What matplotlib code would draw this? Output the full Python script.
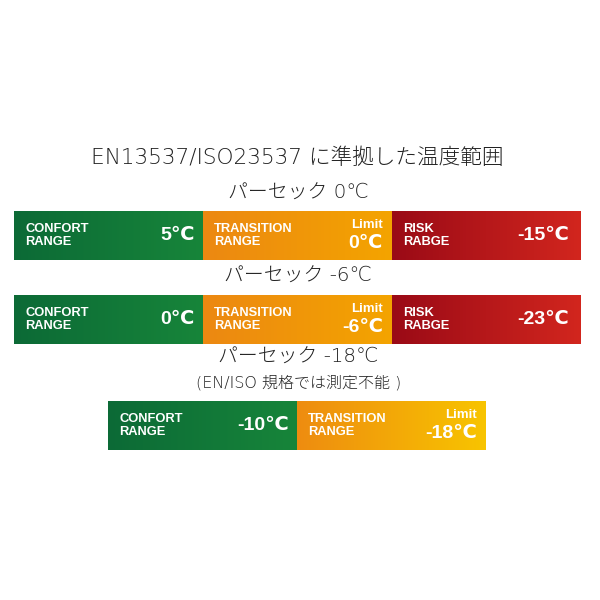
import numpy as np
import matplotlib.pyplot as plt
from matplotlib.colors import LinearSegmentedColormap

# Chart content
title = 'EN13537/ISO23537 に準拠した温度範囲'
row_titles = ['パーセック 0℃', 'パーセック -6℃', 'パーセック -18℃']
row_notes = ['', '', '(EN/ISO 規格では測定不能 )']
comfort_vals = ['5℃', '0℃', '-10℃']
limit_vals = ['0℃', '-6℃', '-18℃']
risk_vals = ['-15℃', '-23℃', None]

# layout (pixels, y grows downward)
bar_tops = [211, 295, 401]
bar_lefts = [14, 14, 108]
title_ys = [193, 276, 357]
seg_w = 189
bar_h = 49

green = ('#0c6a36', '#17853a')
orange = ('#ec8812', '#f4a400')
orange_last = ('#ee8c10', '#f8c400')
red = ('#9a0a16', '#d2261e')

head = ['DejaVu Sans', 'Noto Sans CJK JP']
latin = ['Liberation Sans', 'DejaVu Sans']

fig = plt.figure(figsize=(6, 6), dpi=100)
ax = fig.add_axes([0, 0, 1, 1])
ax.set_xlim(0, 600)
ax.set_ylim(600, 0)
ax.axis('off')

grad = np.linspace(0, 1, 256).reshape(1, -1)


def segment(x, y, colors):
    cmap = LinearSegmentedColormap.from_list('g', list(colors))
    ax.imshow(grad, cmap=cmap, aspect='auto', interpolation='bilinear',
              extent=[x, x + seg_w, y + bar_h, y], zorder=1)


def label(x, y, text):
    ax.text(x + 11, y + 18, text[0], color='white', fontsize=9.3,
            fontweight='bold', family=latin, va='center', ha='left', zorder=3)
    ax.text(x + 11, y + 31, text[1], color='white', fontsize=9.3,
            fontweight='bold', family=latin, va='center', ha='left', zorder=3)


ax.text(297, 158, title, ha='center', va='center', fontsize=15.6,
        family=head, fontweight='light', color='#222222')

for i in range(3):
    x0 = bar_lefts[i]
    y0 = bar_tops[i]
    ax.text(298, title_ys[i], row_titles[i], ha='center', va='center',
            fontsize=14.3, family=head, fontweight='light', color='#222222')
    if row_notes[i]:
        ax.text(299, title_ys[i] + 26, row_notes[i], ha='center', va='center',
                fontsize=11.5, family=head, fontweight='light', color='#222222')

    # comfort
    segment(x0, y0, green)
    label(x0, y0, ('CONFORT', 'RANGE'))
    ax.text(x0 + seg_w - 8, y0 + 25, comfort_vals[i], color='white',
            fontsize=14, fontweight='bold', family=latin, ha='right',
            va='center', zorder=3)

    # transition
    xt = x0 + seg_w
    segment(xt, y0, orange_last if risk_vals[i] is None else orange)
    label(xt, y0, ('TRANSITION', 'RANGE'))
    ax.text(xt + seg_w - 9, y0 + 14, 'Limit', color='white', fontsize=9.5,
            fontweight='bold', family=latin, ha='right', va='center', zorder=3)
    ax.text(xt + seg_w - 9, y0 + 32, limit_vals[i], color='white',
            fontsize=14, fontweight='bold', family=latin, ha='right',
            va='center', zorder=3)

    # risk
    if risk_vals[i] is not None:
        xr = x0 + 2 * seg_w
        segment(xr, y0, red)
        label(xr, y0, ('RISK', 'RABGE'))
        ax.text(xr + seg_w - 12, y0 + 25, risk_vals[i], color='white',
                fontsize=14, fontweight='bold', family=latin, ha='right',
                va='center', zorder=3)

fig.savefig('out.png', dpi=100)
